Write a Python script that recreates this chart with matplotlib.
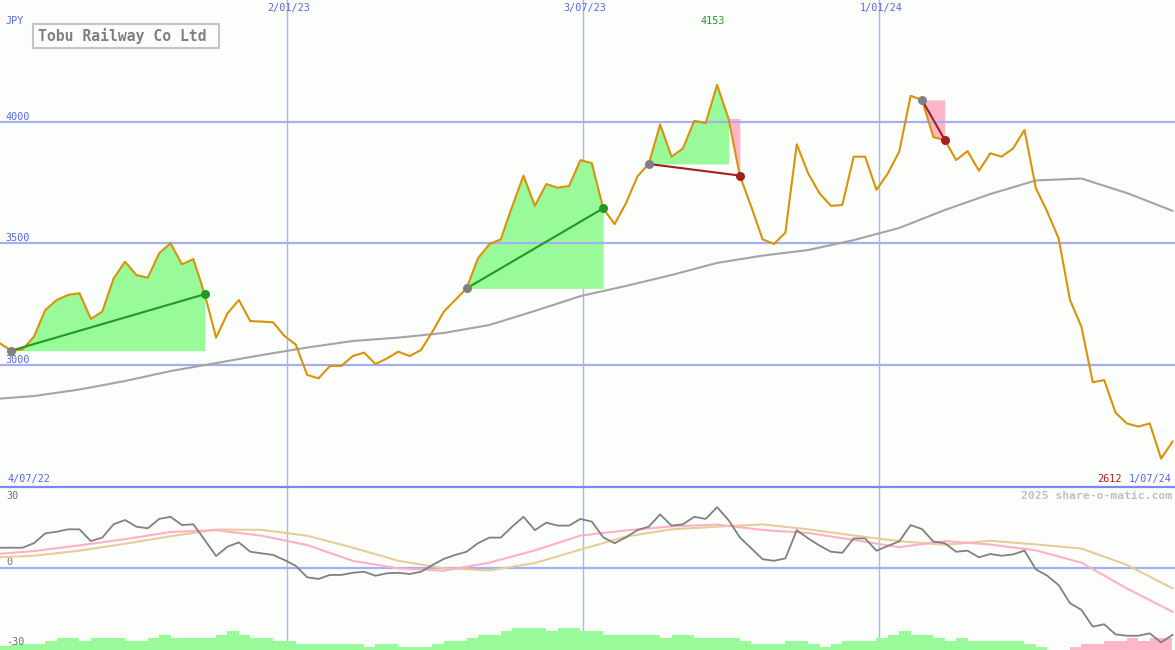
import matplotlib
matplotlib.use("Agg")
import matplotlib.pyplot as plt
from matplotlib.patches import Rectangle
from matplotlib.lines import Line2D
import numpy as np

# weekly closes (JPY), week 0 = 4/07/22 ... week 104 = 1/07/24
price = [3110, 3088, 3057, 3062, 3115, 3225, 3266, 3287, 3294, 3188,
         3218, 3355, 3424, 3369, 3358, 3459, 3500, 3413, 3435, 3290,
         3111, 3211, 3266, 3179, 3177, 3174, 3118, 3082, 2957, 2943,
         2994, 2994, 3035, 3049, 3002, 3025, 3053, 3035, 3060, 3135,
         3218, 3266, 3314, 3438, 3496, 3516, 3651, 3779, 3654, 3744,
         3729, 3736, 3843, 3830, 3644, 3579, 3665, 3775, 3827, 3990,
         3857, 3891, 4005, 3995, 4153, 4015, 3779, 3651, 3516, 3497,
         3544, 3908, 3788, 3706, 3654, 3658, 3857, 3857, 3720, 3788,
         3878, 4108, 4091, 3937, 3926, 3843, 3880, 3799, 3871, 3857,
         3891, 3967, 3727, 3630, 3520, 3266, 3156, 2927, 2936, 2801,
         2757, 2744, 2757, 2612, 2682]

# long moving average, read every 4 weeks
ma_weeks = list(range(0, 105, 4))
ma = [2856, 2870, 2897, 2932, 2973, 3006, 3039, 3070, 3097, 3111,
      3130, 3163, 3221, 3282, 3324, 3369, 3419, 3449, 3472, 3513,
      3563, 3637, 3703, 3759, 3767, 3707, 3634]

# lower panel: % distance from average and its two averages
osc = [9.5, 7.6, 7.6, 7.6, 9.3, 13.0, 13.6, 14.5, 14.5, 10.1,
       11.4, 16.4, 18.0, 15.5, 14.9, 18.4, 19.2, 16.1, 16.4, 10.5,
       4.5, 8.0, 9.6, 6.1, 5.5, 4.9, 3.0, 0.8, -3.5, -4.1,
       -2.6, -2.6, -1.8, -1.4, -2.9, -2.0, -1.8, -2.25, -1.4, 1.1,
       3.4, 4.9, 6.1, 9.3, 11.4, 11.4, 15.5, 19.2, 14.2, 17.0,
       15.9, 15.9, 18.4, 17.4, 11.5, 9.3, 11.5, 14.2, 15.5, 20.1,
       15.9, 16.4, 19.2, 18.4, 22.8, 18.0, 11.5, 7.4, 3.3, 2.7,
       3.6, 14.2, 11.1, 8.4, 6.1, 5.7, 11.1, 11.1, 6.5, 8.25,
       10.0, 16.1, 14.6, 9.9, 9.3, 6.1, 6.5, 4.0, 5.25, 4.6,
       5.1, 6.5, -0.5, -2.9, -6.4, -13.2, -15.7, -22.0, -21.1, -24.9,
       -25.4, -25.4, -24.5, -27.9, -25.1]
osc_fast = [5.0, 6.35, 8.5, 10.8, 13.5, 14.2, 12.1, 8.6, 2.7, -0.15,
            -1.05, 2.0, 6.6, 12.15, 14.1, 15.6, 16.3, 14.25, 13.15, 10.5,
            7.8, 10.1, 8.8, 6.6, 2.0, -7.7, -16.4]
osc_slow = [3.85, 4.6, 6.5, 9.1, 11.9, 14.4, 14.3, 12.1, 7.65, 2.7,
            -0.1, -0.9, 1.85, 6.9, 11.8, 14.5, 15.5, 16.35, 14.5, 12.2,
            10.05, 8.7, 10.2, 8.85, 7.3, 1.15, -7.6]
# weekly bars at the foot of the lower panel
hist = [1.6, 1.6, 2.25, 2.25, 2.25, 3.4, 4.6, 4.6, 3.4, 4.6,
        4.6, 4.6, 3.4, 3.4, 4.6, 5.6, 4.6, 4.6, 4.6, 4.6,
        5.6, 7.1, 5.6, 4.6, 4.6, 3.4, 3.4, 2.25, 2.25, 2.25,
        2.25, 2.25, 2.25, 1.25, 2.25, 2.25, 1.25, 1.25, 1.25, 2.25,
        3.4, 3.4, 4.6, 5.6, 5.6, 7.1, 8.4, 8.4, 8.4, 7.1,
        8.4, 8.4, 7.1, 7.1, 5.6, 5.6, 5.6, 5.6, 5.6, 4.6,
        5.6, 5.6, 4.6, 4.6, 4.6, 4.6, 3.4, 2.25, 2.25, 2.25,
        3.4, 3.4, 2.25, 1.25, 2.25, 3.4, 3.4, 3.4, 4.6, 5.6,
        7.1, 5.6, 5.6, 4.4, 3.5, 4.4, 3.5, 3.5, 3.5, 3.5,
        3.5, 2.25, 1.0, 0, 0, -1.0, -2.25, -2.25, -3.5, -3.5,
        -4.4, -3.5, -4.4, -4.4]

grid_weeks = [26, 52, 78]
grid_labels = ["2/01/23", "3/07/23", "1/01/24"]
price_grid = [4000, 3500, 3000]
start_label, end_label = "4/07/22", "1/07/24"
# (buy week, sell week)
trades = [(2, 19), (42, 54), (58, 66), (82, 84)]

BG = "#fcfefc"
BLUE_TXT = "#5666e6"
HLINE = "#a4aef0"
VLINE = "#aab6f2"
ORANGE = "#d8920c"
GREEN_FILL = "#98fa98"
PINK_FILL = "#ffb6c8"
MONO = "DejaVu Sans Mono"
GRID_SHIFT = 0.2   # date lines sit a little right of the weekly points

W = np.arange(len(price))
p = np.array(price, dtype=float)

fig = plt.figure(figsize=(11.75, 6.5), dpi=100, facecolor=BG)
ax = fig.add_axes([0, 163 / 650, 1, 487 / 650])
ax2 = fig.add_axes([0, 0, 1, 163 / 650])
for a in (ax, ax2):
    a.set_xlim(1.02, 104.22)
    a.axis("off")
    for w in grid_weeks:
        a.axvline(w + GRID_SHIFT, color=VLINE, lw=1, zorder=1)
ax.set_ylim(2495, 4503)
ax2.set_ylim(-30.75, 30.375)

for v in price_grid:
    ax.axhline(v, color=HLINE, lw=1.6, zorder=3)
    ax.annotate(str(v), (0, v), xycoords=("axes fraction", "data"),
                xytext=(5, 2), textcoords="offset pixels", va="baseline",
                ha="left", color=BLUE_TXT, fontsize=7.3, family=MONO)

# trades: shaded gain / loss against the buy level
for b, s in trades:
    level = price[b]
    above = [i for i in range(b, s + 1) if price[i] >= level]
    k = max(above)
    if k > b:
        ax.fill_between(W[b:k + 1], p[b:k + 1], level, color=GREEN_FILL,
                        lw=0, zorder=2)
    if k < s:
        top = max(price[k], level)
        ax.fill_between(W[k:s + 1], p[k:s + 1], top, color=PINK_FILL,
                        lw=0, zorder=2)
    win = price[s] >= level
    col = "#229a22" if win else "#a41e1e"
    ax.plot([b, s], [price[b], price[s]], color=col, lw=1.5, zorder=6)
    ax.plot(b, price[b], "o", ms=6.5, color="#808080", mec="none", zorder=7)
    ax.plot(s, price[s], "o", ms=6.5, color=col, mec="none", zorder=7)

ax.plot(ma_weeks, ma, color="#a4a4a4", lw=1.5, zorder=4)
ax.plot(W, p, color=ORANGE, lw=1.5, zorder=5)

# high / low labels
hi = int(np.argmax(p))
ax.annotate(str(price[hi]), (hi, 1), xycoords=("data", "axes fraction"),
            xytext=(-4, -21), textcoords="offset pixels", ha="center",
            va="center", color="#229a22", fontsize=7.3, family=MONO)
lo = int(np.argmin(p))
fig.text(1121.7 / 1175, 1 - 479 / 650, str(price[lo]), ha="right",
         va="center", color="#a41e1e", fontsize=7.3, family=MONO)

for w, lbl in zip(grid_weeks, grid_labels):
    ax.annotate(lbl, (w + GRID_SHIFT, 1), xycoords=("data", "axes fraction"),
                xytext=(2, -8.5), textcoords="offset pixels", ha="center",
                va="center", color=BLUE_TXT, fontsize=7.3, family=MONO)

fig.text(7 / 1175, 1 - 479 / 650, start_label, ha="left", va="center",
         color=BLUE_TXT, fontsize=7.3, family=MONO)
fig.text(1172 / 1175, 1 - 479 / 650, end_label, ha="right", va="center",
         color=BLUE_TXT, fontsize=7.3, family=MONO)
fig.text(5 / 1175, 1 - 21 / 650, "JPY", ha="left", va="center",
         color=BLUE_TXT, fontsize=7.3, family=MONO)

# title box
fig.add_artist(Rectangle((32.5 / 1175, 1 - 48 / 650), 186 / 1175, 23.5 / 650,
                         transform=fig.transFigure, fill=False,
                         ec="#c4c4c4", lw=1.5))
fig.text(38 / 1175, 1 - 36.5 / 650, "Tobu Railway Co Ltd", ha="left",
         va="center", color="#808080", fontsize=10.6, fontweight="bold",
         family=MONO)

# panel separator
fig.add_artist(Line2D([0, 1], [163 / 650, 163 / 650],
                      transform=fig.transFigure, color="#7b8aea", lw=1.6))

# lower panel
ax2.axhline(0, color=HLINE, lw=1.6, zorder=3)
bar_cols = [GREEN_FILL if h > 0 else PINK_FILL for h in hist]
ax2.bar(W[:-1], np.abs(hist), width=1, align="edge", bottom=-30.75,
        color=bar_cols, lw=0, zorder=2)
ax2.plot(ma_weeks, osc_slow, color="#e6cc98", lw=1.5, zorder=4)
ax2.plot(ma_weeks, osc_fast, color="#ffb0c6", lw=1.5, zorder=4)
ax2.plot(W, osc, color="#808080", lw=1.3, zorder=5)

for v, dy in [(30, -8), (0, 5.6), (-30, 5.6)]:
    ax2.annotate(str(v), (0, v), xycoords=("axes fraction", "data"),
                 xytext=(6, dy), textcoords="offset pixels", ha="left",
                 va="center", color="#707070", fontsize=7.3, family=MONO)

fig.text(1172 / 1175, 1 - 496 / 650, "2025 share-o-matic.com", ha="right",
         va="center", color="#c0c0c0", fontsize=8.2, fontweight="bold",
         family=MONO)

fig.savefig("out.png", dpi=100, facecolor=BG)
